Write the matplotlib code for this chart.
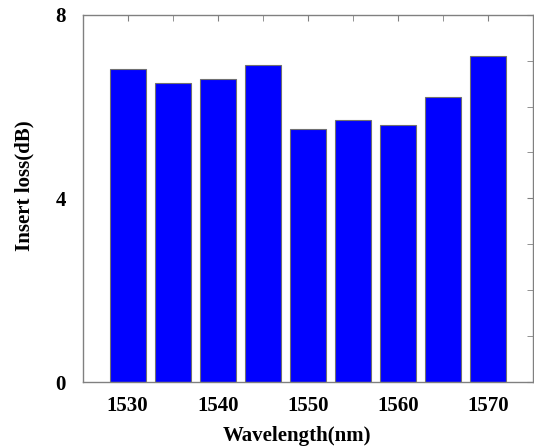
import numpy as np
import matplotlib.pyplot as plt

# data
wavelengths = [1530, 1535, 1540, 1545, 1550, 1555, 1560, 1565, 1570]
insert_loss = [6.81, 6.52, 6.61, 6.91, 5.51, 5.71, 5.60, 6.21, 7.11]
x_ticks = [1530, 1540, 1550, 1560, 1570]
y_ticks = [0, 4, 8]

plt.rcParams['font.family'] = ['Liberation Serif', 'DejaVu Serif']
plt.rcParams['font.weight'] = 'bold'

fig = plt.figure(figsize=(5.34, 4.47), dpi=100)
ax = fig.add_axes([0.1545, 0.1454, 0.8435, 0.8217])

ax.bar(wavelengths, insert_loss, width=4.0, color='#0000ff',
       edgecolor='#707070', linewidth=0.8, zorder=2)

ax.set_xlim(1525, 1575)
ax.set_ylim(0, 8)

for s in ax.spines.values():
    s.set_color('#808080')
    s.set_linewidth(1.0)

# labelled ticks
ax.set_xticks(x_ticks)
ax.set_yticks(y_ticks)
ax.set_xticks(wavelengths, minor=True)
ax.set_yticks(np.arange(0, 9, 1), minor=True)
ax.tick_params(axis='both', which='both', direction='in', color='#808080',
               labelsize=15)
ax.tick_params(axis='x', which='both', top=True, length=4, pad=10)
ax.tick_params(axis='y', which='both', left=False, right=True, length=4, pad=12)

ax.set_xlabel('Wavelength(nm)', fontsize=15, fontweight='bold', va='center')
ax.set_ylabel('Insert loss(dB)', fontsize=15, fontweight='bold', va='center')
ax.xaxis.set_label_coords(0.475, -0.147)
ax.yaxis.set_label_coords(-0.129, 0.534)

fig.savefig('out.png', dpi=100)
